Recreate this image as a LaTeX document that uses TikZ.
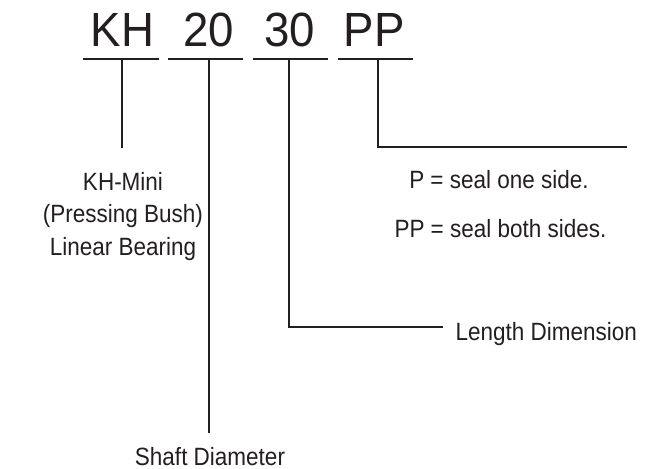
\documentclass[tikz,border=0pt]{standalone}
\usepackage{fontspec}
\setmainfont{Liberation Sans}
\newfontfamily\labelfont[FakeStretch=0.9]{Liberation Sans}
\newfontfamily\codefont[FakeStretch=0.95]{Liberation Sans}
\definecolor{ink}{HTML}{231F20}
\begin{document}
\begin{tikzpicture}[x=1pt,y=-1pt,
  code/.style={inner sep=0pt,anchor=base,text=ink,font=\codefont\fontsize{48}{48}\selectfont},
  lbl/.style={inner sep=0pt,anchor=base,text=ink,font=\labelfont\fontsize{25}{25}\selectfont},
  ln/.style={draw=ink,line width=2pt},
  bar/.style={draw=ink,line width=2pt}]
\useasboundingbox (0,0) rectangle (657,469);
% code letters
\node[code] (kh) at (122.5,46.5) {KH};
\node[code] (n20) at (208.5,46.5) {20};
\node[code] (n30) at (290,46.5) {30};
\node[code] (pp) at (374,46.5) {PP};
% underlines
\coordinate (u1a) at (83,58.5);  \coordinate (u1b) at (159,58.5);
\coordinate (u2a) at (168,58.5); \coordinate (u2b) at (243,58.5);
\coordinate (u3a) at (253,58.5); \coordinate (u3b) at (328,58.5);
\coordinate (u4a) at (338,58.5); \coordinate (u4b) at (413,58.5);
\draw[bar] (u1a) -- (u1b);
\draw[bar] (u2a) -- (u2b);
\draw[bar] (u3a) -- (u3b);
\draw[bar] (u4a) -- (u4b);
% tick tops
\coordinate (t1) at (122,58.5);
\coordinate (t2) at (209,58.5);
\coordinate (t3) at (289,58.5);
\coordinate (t4) at (378,58.5);
% ends
\coordinate (e1) at (122,148);
\coordinate (e2) at (209,433);
\coordinate (c3) at (289,327);
\coordinate (e3) at (443,327);
\coordinate (c4) at (378,147);
\coordinate (e4) at (627,147);
\draw[ln] (t1) -- (e1);
\draw[ln] (t2) -- (e2);
\draw[ln] (t3) -- (c3) -- (e3);
\draw[ln] (t4) -- (c4) -- (e4);
% labels
\node[lbl] (kh1) at (123,190) {KH-Mini};
\node[lbl] (kh2) at (123,222.5) {(Pressing Bush)};
\node[lbl] (kh3) at (123,255) {Linear Bearing};
\node[lbl] (p1) at (499,188.5) {P = seal one side.};
\node[lbl] (p2) at (500.5,237) {PP = seal both sides.};
\node[lbl,anchor=base west] (len) at (455.5,340) {Length Dimension};
\node[lbl] (shaft) at (210,465.5) {Shaft Diameter};
\end{tikzpicture}
\end{document}
